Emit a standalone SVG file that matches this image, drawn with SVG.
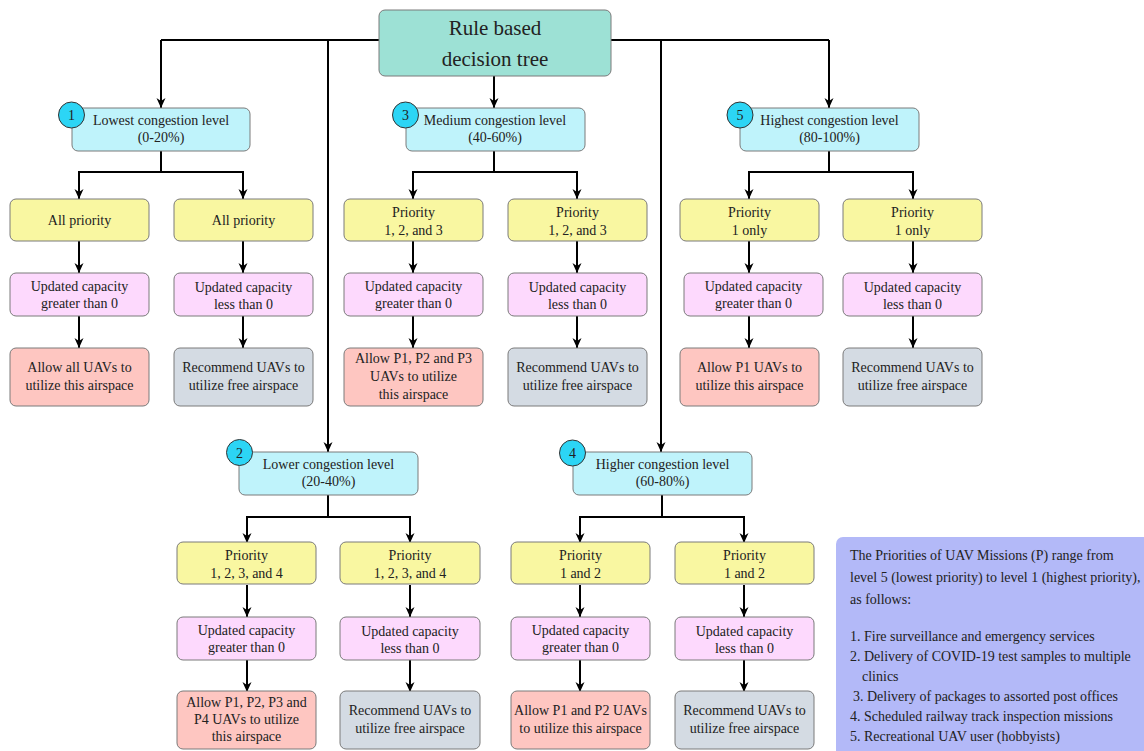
<svg xmlns="http://www.w3.org/2000/svg" width="1144" height="751" viewBox="0 0 1144 751">
  <style>
    text { font-family: "Liberation Serif", "Times New Roman", serif; fill: #222; }
    .t { font-size: 14px; text-anchor: middle; }
    .root { font-size: 21px; text-anchor: middle; }
    .leg { font-size: 14px; }
    .box { stroke: #7a7a7a; stroke-width: 1; }
    .rootbox { fill: #9de1d5; }
    .lvl { fill: #bff3fb; }
    .pri { fill: #f9f7a1; }
    .cap { fill: #fdd9fd; }
    .yes { fill: #fec6c1; }
    .no { fill: #d4dbe3; }
    .badge { fill: #2cd5f5; stroke: #333; stroke-width: 1; }
    .wire { fill: none; stroke: #000; stroke-width: 2; }
    .arr { marker-end: url(#head); }
  </style>
  <defs>
    <marker id="head" markerUnits="userSpaceOnUse" markerWidth="10" markerHeight="10" refX="10" refY="5" orient="auto">
      <path d="M0,0.5 L10,5 L0,9.5 L3,5 Z" fill="#000"/>
    </marker>
  </defs>
  <rect width="1144" height="751" fill="#fff"/>

  <!-- connectors -->
  <g id="connectors">
    <path class="wire" d="M161,40 H829"/>
    <path class="wire arr" d="M161,40 V108"/>
    <path class="wire arr" d="M328,40 V452"/>
    <path class="wire arr" d="M661,40 V452"/>
    <path class="wire arr" d="M829,40 V108"/>
    <path class="wire arr" d="M494,76 V108"/>

    <!-- level 1 -->
    <path class="wire" d="M161,151 V172 M79,172 H243"/>
    <path class="wire arr" d="M79,171 V199"/>
    <path class="wire arr" d="M243,171 V199"/>
    <path class="wire arr" d="M79,241 V273"/>
    <path class="wire arr" d="M243,241 V273"/>
    <path class="wire arr" d="M79,316 V348"/>
    <path class="wire arr" d="M243,316 V348"/>

    <!-- level 3 -->
    <path class="wire" d="M494,151 V172 M413,172 H577"/>
    <path class="wire arr" d="M413,171 V199"/>
    <path class="wire arr" d="M577,171 V199"/>
    <path class="wire arr" d="M413,241 V273"/>
    <path class="wire arr" d="M577,241 V273"/>
    <path class="wire arr" d="M413,316 V348"/>
    <path class="wire arr" d="M577,316 V348"/>

    <!-- level 5 -->
    <path class="wire" d="M829,151 V172 M749,172 H913"/>
    <path class="wire arr" d="M749,171 V199"/>
    <path class="wire arr" d="M913,171 V199"/>
    <path class="wire arr" d="M749,241 V273"/>
    <path class="wire arr" d="M913,241 V273"/>
    <path class="wire arr" d="M749,316 V348"/>
    <path class="wire arr" d="M913,316 V348"/>

    <!-- level 2 -->
    <path class="wire" d="M328,495 V517 M247,517 H410"/>
    <path class="wire arr" d="M247,516 V543"/>
    <path class="wire arr" d="M410,516 V543"/>
    <path class="wire arr" d="M247,585 V617"/>
    <path class="wire arr" d="M410,585 V617"/>
    <path class="wire arr" d="M247,660 V692"/>
    <path class="wire arr" d="M410,660 V692"/>

    <!-- level 4 -->
    <path class="wire" d="M662,495 V517 M580,517 H744"/>
    <path class="wire arr" d="M580,516 V543"/>
    <path class="wire arr" d="M744,516 V543"/>
    <path class="wire arr" d="M580,585 V617"/>
    <path class="wire arr" d="M744,585 V617"/>
    <path class="wire arr" d="M580,660 V692"/>
    <path class="wire arr" d="M744,660 V692"/>
  </g>

  <!-- root -->
  <g id="root">
    <rect class="box rootbox" x="379" y="10" width="232" height="66" rx="6"/>
    <text class="root" x="495" y="35">Rule based</text>
    <text class="root" x="495" y="66">decision tree</text>
  </g>

  <!-- congestion levels -->
  <g id="level1">
    <rect class="box lvl" x="72" y="108" width="178" height="43" rx="6"/>
    <text class="t" x="161" y="125">Lowest congestion level</text>
    <text class="t" x="161" y="142">(0-20%)</text>
    <circle class="badge" cx="71.5" cy="115" r="13"/>
    <text class="t" x="71.5" y="120">1</text>
  </g>
  <g id="level3">
    <rect class="box lvl" x="406" y="108" width="179" height="43" rx="6"/>
    <text class="t" x="495" y="125">Medium congestion level</text>
    <text class="t" x="495" y="142">(40-60%)</text>
    <circle class="badge" cx="405.5" cy="115" r="13"/>
    <text class="t" x="405.5" y="120">3</text>
  </g>
  <g id="level5">
    <rect class="box lvl" x="740" y="108" width="179" height="43" rx="6"/>
    <text class="t" x="829.5" y="125">Highest congestion level</text>
    <text class="t" x="829.5" y="142">(80-100%)</text>
    <circle class="badge" cx="740" cy="115" r="13"/>
    <text class="t" x="740" y="120">5</text>
  </g>
  <g id="level2">
    <rect class="box lvl" x="239" y="452" width="179" height="43" rx="6"/>
    <text class="t" x="328.5" y="469">Lower congestion level</text>
    <text class="t" x="328.5" y="486">(20-40%)</text>
    <circle class="badge" cx="239.5" cy="452.5" r="13"/>
    <text class="t" x="239.5" y="457.5">2</text>
  </g>
  <g id="level4">
    <rect class="box lvl" x="573" y="452" width="179" height="43" rx="6"/>
    <text class="t" x="662.5" y="469">Higher congestion level</text>
    <text class="t" x="662.5" y="486">(60-80%)</text>
    <circle class="badge" cx="572.5" cy="453" r="13"/>
    <text class="t" x="572.5" y="458">4</text>
  </g>

  <!-- level 1 branches -->
  <g id="l1-pri-a"><rect class="box pri" x="10" y="199" width="139" height="42" rx="6"/><text class="t" x="79.5" y="225">All priority</text></g>
  <g id="l1-pri-b"><rect class="box pri" x="174" y="199" width="139" height="42" rx="6"/><text class="t" x="243.5" y="225">All priority</text></g>
  <g id="l1-cap-a"><rect class="box cap" x="10" y="273" width="139" height="43" rx="6"/><text class="t" x="79.5" y="290.5">Updated capacity</text><text class="t" x="79.5" y="307.5">greater than 0</text></g>
  <g id="l1-cap-b"><rect class="box cap" x="174" y="273" width="139" height="43" rx="6"/><text class="t" x="243.5" y="291.5">Updated capacity</text><text class="t" x="243.5" y="308.5">less than 0</text></g>
  <g id="l1-yes"><rect class="box yes" x="10" y="348" width="139" height="58" rx="6"/><text class="t" x="79.5" y="371.5">Allow all UAVs to</text><text class="t" x="79.5" y="389.5">utilize this airspace</text></g>
  <g id="l1-no"><rect class="box no" x="174" y="348" width="139" height="58" rx="6"/><text class="t" x="243.5" y="371.5">Recommend UAVs to</text><text class="t" x="243.5" y="389.5">utilize free airspace</text></g>

  <!-- level 3 branches -->
  <g id="l3-pri-a"><rect class="box pri" x="344" y="199" width="139" height="42" rx="6"/><text class="t" x="413.5" y="216.5">Priority</text><text class="t" x="413.5" y="234.5">1, 2, and 3</text></g>
  <g id="l3-pri-b"><rect class="box pri" x="508" y="199" width="139" height="42" rx="6"/><text class="t" x="577.5" y="216.5">Priority</text><text class="t" x="577.5" y="234.5">1, 2, and 3</text></g>
  <g id="l3-cap-a"><rect class="box cap" x="344" y="273" width="139" height="43" rx="6"/><text class="t" x="413.5" y="290.5">Updated capacity</text><text class="t" x="413.5" y="307.5">greater than 0</text></g>
  <g id="l3-cap-b"><rect class="box cap" x="508" y="273" width="139" height="43" rx="6"/><text class="t" x="577.5" y="291.5">Updated capacity</text><text class="t" x="577.5" y="308.5">less than 0</text></g>
  <g id="l3-yes"><rect class="box yes" x="344" y="348" width="139" height="58" rx="6"/><text class="t" x="413.5" y="363">Allow P1, P2 and P3</text><text class="t" x="413.5" y="381">UAVs to utilize</text><text class="t" x="413.5" y="399">this airspace</text></g>
  <g id="l3-no"><rect class="box no" x="508" y="348" width="139" height="58" rx="6"/><text class="t" x="577.5" y="371.5">Recommend UAVs to</text><text class="t" x="577.5" y="389.5">utilize free airspace</text></g>

  <!-- level 5 branches -->
  <g id="l5-pri-a"><rect class="box pri" x="680" y="199" width="139" height="42" rx="6"/><text class="t" x="749.5" y="216.5">Priority</text><text class="t" x="749.5" y="234.5">1 only</text></g>
  <g id="l5-pri-b"><rect class="box pri" x="843" y="199" width="139" height="42" rx="6"/><text class="t" x="912.5" y="216.5">Priority</text><text class="t" x="912.5" y="234.5">1 only</text></g>
  <g id="l5-cap-a"><rect class="box cap" x="684" y="273" width="139" height="43" rx="6"/><text class="t" x="753.5" y="290.5">Updated capacity</text><text class="t" x="753.5" y="307.5">greater than 0</text></g>
  <g id="l5-cap-b"><rect class="box cap" x="843" y="273" width="139" height="43" rx="6"/><text class="t" x="912.5" y="291.5">Updated capacity</text><text class="t" x="912.5" y="308.5">less than 0</text></g>
  <g id="l5-yes"><rect class="box yes" x="680" y="348" width="139" height="58" rx="6"/><text class="t" x="749.5" y="371.5">Allow P1 UAVs to</text><text class="t" x="749.5" y="389.5">utilize this airspace</text></g>
  <g id="l5-no"><rect class="box no" x="843" y="348" width="139" height="58" rx="6"/><text class="t" x="912.5" y="371.5">Recommend UAVs to</text><text class="t" x="912.5" y="389.5">utilize free airspace</text></g>

  <!-- level 2 branches -->
  <g id="l2-pri-a"><rect class="box pri" x="177" y="542" width="139" height="42" rx="6"/><text class="t" x="246.5" y="559.5">Priority</text><text class="t" x="246.5" y="577.5">1, 2, 3, and 4</text></g>
  <g id="l2-pri-b"><rect class="box pri" x="340" y="542" width="140" height="42" rx="6"/><text class="t" x="410" y="559.5">Priority</text><text class="t" x="410" y="577.5">1, 2, 3, and 4</text></g>
  <g id="l2-cap-a"><rect class="box cap" x="177" y="617" width="139" height="43" rx="6"/><text class="t" x="246.5" y="634.5">Updated capacity</text><text class="t" x="246.5" y="651.5">greater than 0</text></g>
  <g id="l2-cap-b"><rect class="box cap" x="340" y="617" width="140" height="43" rx="6"/><text class="t" x="410" y="635.5">Updated capacity</text><text class="t" x="410" y="652.5">less than 0</text></g>
  <g id="l2-yes"><rect class="box yes" x="177" y="691" width="139" height="58" rx="6"/><text class="t" x="246.5" y="706.5">Allow P1, P2, P3 and</text><text class="t" x="246.5" y="724">P4 UAVs to utilize</text><text class="t" x="246.5" y="741">this airspace</text></g>
  <g id="l2-no"><rect class="box no" x="340" y="691" width="140" height="58" rx="6"/><text class="t" x="410" y="714.5">Recommend UAVs to</text><text class="t" x="410" y="732.5">utilize free airspace</text></g>

  <!-- level 4 branches -->
  <g id="l4-pri-a"><rect class="box pri" x="511" y="542" width="139" height="42" rx="6"/><text class="t" x="580.5" y="559.5">Priority</text><text class="t" x="580.5" y="577.5">1 and 2</text></g>
  <g id="l4-pri-b"><rect class="box pri" x="675" y="542" width="139" height="42" rx="6"/><text class="t" x="744.5" y="559.5">Priority</text><text class="t" x="744.5" y="577.5">1 and 2</text></g>
  <g id="l4-cap-a"><rect class="box cap" x="511" y="617" width="139" height="43" rx="6"/><text class="t" x="580.5" y="634.5">Updated capacity</text><text class="t" x="580.5" y="651.5">greater than 0</text></g>
  <g id="l4-cap-b"><rect class="box cap" x="675" y="617" width="139" height="43" rx="6"/><text class="t" x="744.5" y="635.5">Updated capacity</text><text class="t" x="744.5" y="652.5">less than 0</text></g>
  <g id="l4-yes"><rect class="box yes" x="511" y="691" width="139" height="58" rx="6"/><text class="t" x="580.5" y="714.5">Allow P1 and P2 UAVs</text><text class="t" x="580.5" y="732.5">to utilize this airspace</text></g>
  <g id="l4-no"><rect class="box no" x="675" y="691" width="139" height="58" rx="6"/><text class="t" x="744.5" y="714.5">Recommend UAVs to</text><text class="t" x="744.5" y="732.5">utilize free airspace</text></g>

  <!-- priority legend -->
  <g id="legend">
    <rect x="836" y="537" width="330" height="230" rx="7" fill="#b3b9f8"/>
    <text class="leg" x="850" y="559.5">The Priorities of UAV Missions (P) range from</text>
    <text class="leg" x="850" y="582">level 5 (lowest priority) to level 1 (highest priority),</text>
    <text class="leg" x="850" y="604">as follows:</text>
    <text class="leg" x="850" y="640.5">1. Fire surveillance and emergency services</text>
    <text class="leg" x="850" y="660.5">2. Delivery of COVID-19 test samples to multiple</text>
    <text class="leg" x="862" y="680.5">clinics</text>
    <text class="leg" x="853" y="700.5">3. Delivery of packages to assorted post offices</text>
    <text class="leg" x="850" y="720.5">4. Scheduled railway track inspection missions</text>
    <text class="leg" x="850" y="740.5">5. Recreational UAV user (hobbyists)</text>
  </g>
</svg>
